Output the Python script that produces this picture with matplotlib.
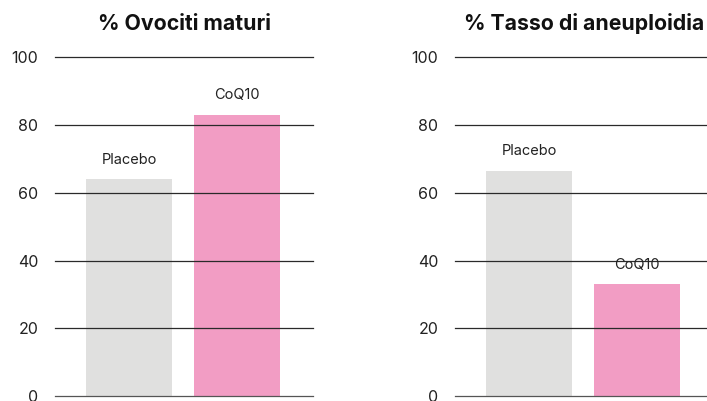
import matplotlib
matplotlib.use("Agg")
import matplotlib.pyplot as plt

titles = ["% Ovociti maturi", "% Tasso di aneuploidia"]
categories = ["Placebo", "CoQ10"]
values_left = [64, 83]
values_right = [66.5, 33]
yticks = [0, 20, 40, 60, 80, 100]

colors = ["#e0e0df", "#f29dc4"]
plt.rcParams['font.family'] = ['Inter', 'DejaVu Sans']

W, H = 707, 401
fig = plt.figure(figsize=(W / 100, H / 100), dpi=100)

def px_axes(x0, x1, ytop, ybot):
    return [x0 / W, 1 - ybot / H, (x1 - x0) / W, (ybot - ytop) / H]

panels = [(55, 313, values_left, titles[0]), (455, 713, values_right, titles[1])]
for x0, x1, vals, title in panels:
    ax = fig.add_axes(px_axes(x0, x1, 57.3, 396))
    xs = range(len(categories))
    ax.bar(xs, vals, width=0.796, color=colors, zorder=1)
    for y in yticks:
        ax.axhline(y, color="#2a2a2a" if y else "#555555", lw=0.9, zorder=3, clip_on=False)
    for x, v, c in zip(xs, vals, categories):
        ax.annotate(c, (x, v), xytext=(0, 9), textcoords="offset points",
                    ha="center", va="bottom", fontsize=10.5, color="#222222")
    ax.set_xlim(-0.685, 1.704)
    ax.set_ylim(0, 100)
    ax.set_yticks(yticks)
    ax.set_yticklabels([str(t) for t in yticks], fontsize=11.5, color="#222222")
    ax.tick_params(axis="y", length=0, pad=12)
    ax.set_xticks([])
    for s in ax.spines.values():
        s.set_visible(False)
    ax.set_title(title, fontsize=15.3, fontweight="bold", pad=19.5, color="#111111")

fig.savefig("out.png", dpi=100)
